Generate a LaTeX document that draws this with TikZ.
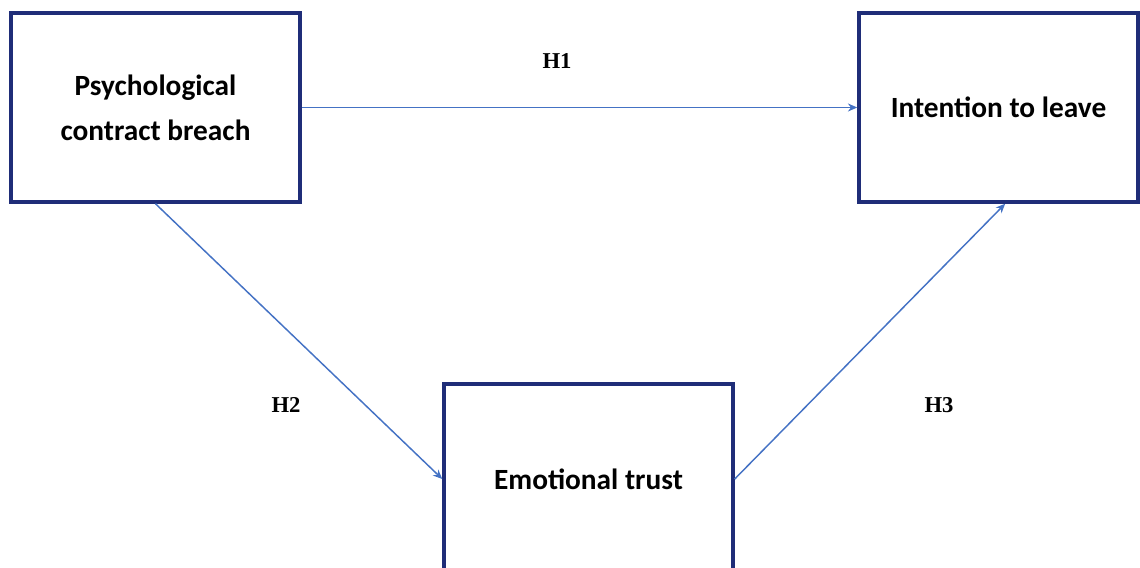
\documentclass[tikz,border=0pt]{standalone}
\usepackage{fontspec}
\setmainfont{Carlito}
\newfontfamily\labelfont{Liberation Serif}
\usetikzlibrary{arrows.meta}

\definecolor{boxnavy}{HTML}{1F2D78}
\definecolor{linkblue}{HTML}{4472C4}

\tikzstyle{construct}=[draw=boxnavy, line width=2.6pt, fill=white, align=center,
  font=\fontsize{22}{34}\selectfont\bfseries, inner sep=0pt]
\tikzstyle{arrow}=[linkblue, line width=1.1pt, -{Stealth[length=7pt,width=6pt]}]
\tikzstyle{hyp}=[font=\labelfont\fontsize{17}{19}\selectfont\bfseries]

\begin{document}
\begin{tikzpicture}[x=0.75pt, y=-0.75pt]
      \useasboundingbox (0,0) rectangle (1140,568);

      \node[construct, minimum width=289*0.75pt, minimum height=189*0.75pt] (pcb) at (155.5, 107.5) {Psychological\\contract breach};
      \node[construct, minimum width=279*0.75pt, minimum height=189*0.75pt] (itl) at (998.5, 107.5) {Intention to leave};
      \node[construct, minimum width=289*0.75pt, minimum height=190*0.75pt] (et) at (588.5, 479) {Emotional trust};

      \node[hyp] (h1) at (557, 61) {H1};
      \node[hyp] (h2) at (286, 405) {H2};
      \node[hyp] (h3) at (939, 405) {H3};

      \draw[arrow] (pcb) to (itl);
      \draw[arrow] (pcb.south) to (et.west);
      \draw[arrow] (et.east) to ([xshift=5pt]itl.south);
    \end{tikzpicture}
\end{document}
